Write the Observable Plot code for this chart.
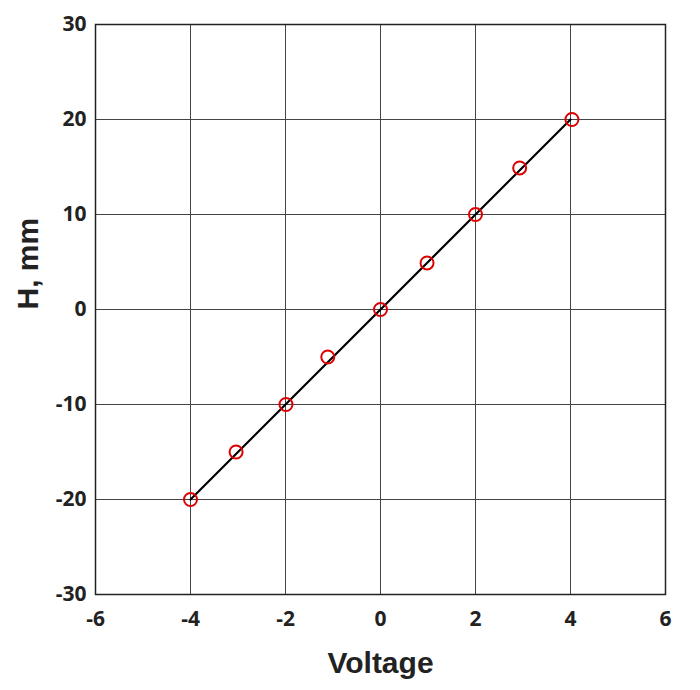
<!DOCTYPE html>
<html>
<head>
<meta charset="utf-8">
<script src="https://cdn.jsdelivr.net/npm/d3@7"></script>
<script src="https://cdn.jsdelivr.net/npm/@observablehq/plot@0.6"></script>
<style>
  html, body { margin: 0; padding: 0; background: #fff; }
  #chart svg { display: block; }
</style>
</head>
<body>
<div id="chart"></div>
<script>
// Measured points (Voltage, H in mm)
const voltage = [-4, -3.04, -1.99, -1.11, 0, 0.98, 2.0, 2.93, 4.03];
const heightMm = [-20, -15, -10, -5, 0, 4.9, 10, 14.9, 20];
// Straight reference line
const lineVoltage = [-4, 4];
const lineHeight = [-20, 20];
// Ticks
const xTicks = [-6, -4, -2, 0, 2, 4, 6];
const yTicks = [-30, -20, -10, 0, 10, 20, 30];
const xTitle = "Voltage";
const yTitle = "H, mm";

const points = voltage.map((v, i) => ({x: v, y: heightMm[i]}));
const fit = lineVoltage.map((v, i) => ({x: v, y: lineHeight[i]}));

const tickFont = "'Open Sans', Lato, sans-serif";
const hyphenFormat = d => String(d);

const chart = Plot.plot({
  width: 700,
  height: 690,
  marginLeft: 95,
  marginRight: 35,
  marginTop: 24,
  marginBottom: 96,
  style: {background: "#fff", color: "#222", fontFamily: "'Liberation Sans', Arial, sans-serif"},
  x: {domain: [-6, 6]},
  y: {domain: [-30, 30]},
  marks: [
    Plot.gridX(xTicks, {stroke: "#444", strokeOpacity: 1, strokeWidth: 1}),
    Plot.gridY(yTicks, {stroke: "#444", strokeOpacity: 1, strokeWidth: 1}),
    Plot.axisX(xTicks, {tickSize: 0, tickPadding: 17, tickFormat: hyphenFormat, fontSize: 21, fontWeight: "bold", fontFamily: tickFont, fill: "#222", label: null}),
    Plot.axisY(yTicks, {tickSize: 0, tickPadding: 9, tickFormat: hyphenFormat, fontSize: 21, fontWeight: "bold", fontFamily: tickFont, fill: "#222", label: null}),
    Plot.frame({stroke: "#222", strokeWidth: 1.5}),
    Plot.line(fit, {x: "x", y: "y", stroke: "#000", strokeWidth: 2.2}),
    Plot.dot(points, {x: "x", y: "y", r: 6.5, stroke: "#dd0000", strokeWidth: 2, fill: "none"}),
    Plot.text([xTitle], {frameAnchor: "bottom", dy: 78, lineAnchor: "bottom", text: d => d, fontSize: 30, fontWeight: "bold", fill: "#222"}),
    Plot.text([yTitle], {frameAnchor: "left", dx: -58, rotate: -90, lineAnchor: "bottom", text: d => d, fontSize: 30, fontWeight: "bold", fill: "#222"})
  ]
});
document.getElementById("chart").appendChild(chart);
</script>
</body>
</html>
